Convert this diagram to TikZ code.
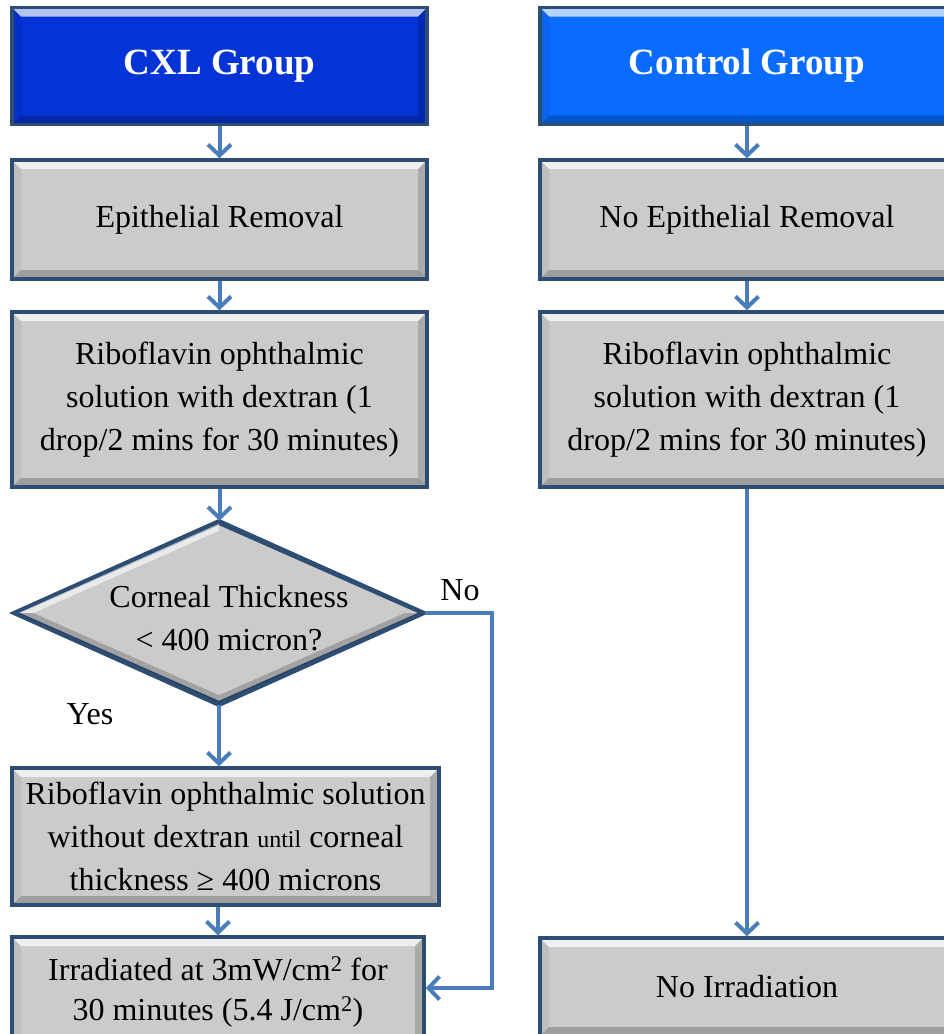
\documentclass[tikz,border=0pt]{standalone}
\usepackage{fontspec}
\setmainfont{Liberation Serif}
\usetikzlibrary{arrows.meta,shapes.geometric,calc}
\definecolor{cxlblue}{HTML}{0433D6}
\definecolor{ctrlblue}{HTML}{0A6CFF}
\definecolor{boxgray}{HTML}{CBCBCB}
\definecolor{rim}{HTML}{2E4D73}
\definecolor{arrowblue}{HTML}{4A7EBB}
\tikzset{
  bevel/.style={path picture={
    \fill[white,opacity=0.7] (path picture bounding box.north west) -- (path picture bounding box.north east)
      -- ([shift={(-9pt,-9pt)}]path picture bounding box.north east) -- ([shift={(9pt,-9pt)}]path picture bounding box.north west) -- cycle;
    \fill[black,opacity=0.22] (path picture bounding box.south west) -- (path picture bounding box.south east)
      -- ([shift={(-9pt,9pt)}]path picture bounding box.south east) -- ([shift={(9pt,9pt)}]path picture bounding box.south west) -- cycle;
    \fill[black,opacity=0.16] (path picture bounding box.north east) -- (path picture bounding box.south east)
      -- ([shift={(-9pt,9pt)}]path picture bounding box.south east) -- ([shift={(-9pt,-9pt)}]path picture bounding box.north east) -- cycle;
    \fill[black,opacity=0.06] (path picture bounding box.north west) -- (path picture bounding box.south west)
      -- ([shift={(9pt,9pt)}]path picture bounding box.south west) -- ([shift={(9pt,-9pt)}]path picture bounding box.north west) -- cycle;
  }},
  box/.style={rectangle, draw=rim, line width=3.5pt, fill=boxgray, text=black,
    font=\fontsize{32}{43}\selectfont, align=center, inner sep=0pt, bevel},
  head/.style={box, font=\fontsize{37}{44}\selectfont\bfseries, text=white},
  diam/.style={diamond, draw=rim, line width=3.5pt, fill=boxgray, inner sep=0pt},
  flow/.style={draw=arrowblue, line width=4pt, -{Straight Barb[length=11pt,width=23pt]}},
  lbl/.style={font=\fontsize{32}{43}\selectfont, inner sep=0pt, align=center},
}
\begin{document}
\begin{tikzpicture}[x=1pt,y=-1pt]
\useasboundingbox (0,0) rectangle (944,1034);
\fill[white] (0,0) rectangle (944,1034);
\clip (0,0) rectangle (944,1034);

% left column
\node[head, fill=cxlblue, minimum width=415pt, minimum height=117pt] (cxl) at (219.5,66) {CXL Group};
\node[box, minimum width=415pt, minimum height=119pt] (epi) at (219.5,219.5) {Epithelial Removal};
\node[box, minimum width=415pt, minimum height=175pt] (rib1) at (219.5,399.5)
  {Riboflavin ophthalmic\\solution with dextran (1\\drop/2 mins for 30 minutes)};
\node[diam, minimum width=408pt, minimum height=181pt] (dia) at (219,613) {};
\fill[white,opacity=0.6] ($(dia.west)+(5pt,0pt)$) -- ($(dia.north)+(0pt,-3pt)$) -- ($(dia.north)+(0pt,-10pt)$) -- ($(dia.west)+(20pt,0pt)$) -- cycle;
\fill[black,opacity=0.2] ($(dia.west)+(5pt,0pt)$) -- ($(dia.south)+(0pt,3pt)$) -- ($(dia.east)+(-5pt,0pt)$) -- ($(dia.east)+(-20pt,0pt)$) -- ($(dia.south)+(0pt,10pt)$) -- ($(dia.west)+(20pt,0pt)$) -- cycle;
\draw[rim, line width=3.5pt, line join=miter] (dia.west) -- (dia.north) -- (dia.east) -- (dia.south) -- cycle;
\node[lbl] (diatext) at (229,618) {Corneal Thickness\\< 400 micron?};
\node[box, minimum width=427pt, minimum height=137pt] (box3) at (225.5,836.5)
  {Riboflavin ophthalmic solution\\without dextran {\fontsize{24}{30}\selectfont until} corneal\\thickness ≥ 400 microns};
\node[box, minimum width=412pt, minimum height=110pt, font=\fontsize{32}{40}\selectfont] (box4) at (218,992)
  {Irradiated at 3mW/cm\textsuperscript{2} for\\30 minutes (5.4 J/cm\textsuperscript{2})};
\node[lbl] (yes) at (90,714) {Yes};
\node[lbl] (no) at (460,590) {No};

% right column
\node[head, fill=ctrlblue, minimum width=414pt, minimum height=117pt] (ctrl) at (747,66) {Control Group};
\node[box, minimum width=414pt, minimum height=119pt] (nepi) at (747,219.5) {No Epithelial Removal};
\node[box, minimum width=414pt, minimum height=175pt] (rib2) at (747,399.5)
  {Riboflavin ophthalmic\\solution with dextran (1\\drop/2 mins for 30 minutes)};
\node[box, minimum width=414pt, minimum height=98pt] (noirr) at (747,987) {No Irradiation};

% connectors
\draw[flow] (cxl.south) -- (epi.north);
\draw[flow] (epi.south) -- (rib1.north);
\draw[flow] (rib1.south) -- (rib1.south |- dia.north);
\draw[flow] (dia.south) -- (dia.south |- box3.north);
\draw[flow] (box3.south -| box4.north) -- (box4.north);
\coordinate (nc) at (492,988);
\draw[flow] (dia.east) -| (nc) -- (box4.east |- nc);
\draw[flow] (ctrl.south) -- (nepi.north);
\draw[flow] (nepi.south) -- (rib2.north);
\draw[flow] (rib2.south) -- (noirr.north);
\end{tikzpicture}
\end{document}
